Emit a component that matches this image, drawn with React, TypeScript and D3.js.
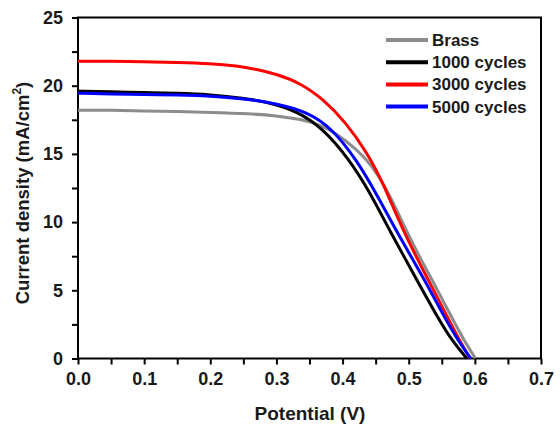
import React, { useEffect, useRef } from 'react';
import * as d3 from 'd3';

// J-V curves: [potential (V), current density (mA/cm2)]
const brass = [
  [0, 18.2], [0.05, 18.2], [0.1, 18.15], [0.15, 18.1], [0.2, 18.05], [0.26, 17.95], [0.3, 17.8],
  [0.336, 17.55], [0.37, 17.1], [0.405, 16.0], [0.433, 14.8], [0.455, 13.4], [0.475, 11.6],
  [0.497, 9.3], [0.517, 7.4], [0.536, 5.7], [0.563, 3.2], [0.585, 1.2], [0.601, 0],
];
const c1000 = [
  [0, 19.6], [0.05, 19.55], [0.1, 19.5], [0.15, 19.45], [0.2, 19.35], [0.25, 19.1], [0.29, 18.75],
  [0.33, 18.15], [0.37, 16.9], [0.41, 14.6], [0.44, 12.3], [0.472, 9.3], [0.513, 5.7],
  [0.545, 2.9], [0.567, 1.2], [0.588, 0],
];
const c3000 = [
  [0, 21.8], [0.05, 21.8], [0.1, 21.75], [0.15, 21.7], [0.2, 21.62], [0.24, 21.45], [0.27, 21.2],
  [0.3, 20.85], [0.336, 20.2], [0.371, 19.0], [0.405, 17.3], [0.437, 15.1], [0.462, 12.8],
  [0.49, 9.5], [0.53, 5.7], [0.558, 3.1], [0.578, 1.2], [0.593, 0],
];
const c5000 = [
  [0, 19.45], [0.05, 19.4], [0.1, 19.35], [0.15, 19.32], [0.2, 19.25], [0.25, 19.05], [0.3, 18.7],
  [0.345, 18.1], [0.384, 16.9], [0.422, 14.5], [0.452, 12.0], [0.484, 9.1], [0.525, 5.7],
  [0.553, 3.1], [0.576, 1.2], [0.594, 0],
];

const names = ['Brass', '1000 cycles', '3000 cycles', '5000 cycles'];
const colors = ['#8c8c8c', '#000000', '#ff0000', '#0000ff'];
const series = [brass, c1000, c3000, c5000];

const xTicks = [0, 0.1, 0.2, 0.3, 0.4, 0.5, 0.6, 0.7];
const yTicks = [0, 5, 10, 15, 20, 25];

const App = () => {
  const ref = useRef<SVGSVGElement>(null);

  useEffect(() => {
    const svg = d3.select(ref.current);
    svg.selectAll('*').remove();

    const x = d3.scaleLinear().domain([0, 0.7]).range([78, 541]);
    const y = d3.scaleLinear().domain([0, 25]).range([358.5, 17.5]);
    const font = 'Arial, "Liberation Sans", sans-serif';
    const ink = '#1a1a1a';

    // frame
    svg.append('rect')
      .attr('x', x(0)).attr('y', y(25))
      .attr('width', x(0.7) - x(0)).attr('height', y(0) - y(25))
      .attr('fill', 'none').attr('stroke', '#000').attr('stroke-width', 2);

    const line = d3.line<number[]>()
      .x(d => x(d[0]))
      .y(d => y(d[1]))
      .curve(d3.curveBasis);

    series.forEach((s, i) => {
      svg.append('path')
        .attr('d', line(s))
        .attr('fill', 'none')
        .attr('stroke', colors[i])
        .attr('stroke-width', 3);
    });

    // x axis
    const xAxis = svg.append('g')
      .attr('transform', `translate(0,${y(0)})`)
      .call(d3.axisBottom(x).tickValues(d3.range(0, 0.701, 0.05)).tickSize(6).tickFormat(() => ''));
    xAxis.select('.domain').remove();
    xAxis.selectAll('line').attr('stroke-width', 2);
    svg.append('g')
      .attr('transform', `translate(0,${y(0)})`)
      .call(d3.axisBottom(x).tickValues(xTicks).tickSize(0).tickPadding(14).tickFormat(d3.format('.1f')))
      .call(g => g.select('.domain').remove())
      .selectAll('text')
      .attr('font-family', font).attr('font-size', 18).attr('font-weight', 'bold').attr('fill', ink);

    // y axis
    const yAxis = svg.append('g')
      .attr('transform', `translate(${x(0)},0)`)
      .call(d3.axisLeft(y).tickValues(d3.range(0, 25.01, 2.5)).tickSize(6).tickFormat(() => ''));
    yAxis.select('.domain').remove();
    yAxis.selectAll('line').attr('stroke-width', 2);
    svg.append('g')
      .attr('transform', `translate(${x(0)},0)`)
      .call(d3.axisLeft(y).tickValues(yTicks).tickSize(0).tickPadding(15).tickFormat(d3.format('d')))
      .call(g => g.select('.domain').remove())
      .selectAll('text')
      .attr('font-family', font).attr('font-size', 18).attr('font-weight', 'bold').attr('fill', ink);

    // axis titles
    svg.append('text')
      .attr('x', 310).attr('y', 420)
      .attr('text-anchor', 'middle')
      .attr('font-family', font).attr('font-size', 19).attr('font-weight', 'bold').attr('fill', ink)
      .text('Potential (V)');

    const yt = svg.append('text')
      .attr('transform', `translate(29,193) rotate(-90)`)
      .attr('text-anchor', 'middle')
      .attr('font-family', font).attr('font-size', 18.5).attr('font-weight', 'bold').attr('fill', ink);
    yt.append('tspan').text('Current density (mA/cm');
    yt.append('tspan').attr('font-size', 12).attr('dy', -8).text('2');
    yt.append('tspan').attr('dy', 8).text(')');

    // legend
    const legend = svg.append('g');
    names.forEach((n, i) => {
      const ly = 40 + i * 22.2;
      legend.append('line')
        .attr('x1', 386).attr('x2', 428).attr('y1', ly).attr('y2', ly)
        .attr('stroke', colors[i]).attr('stroke-width', 4);
      legend.append('text')
        .attr('x', 432).attr('y', ly + 6)
        .attr('font-family', font).attr('font-size', 17).attr('font-weight', 'bold').attr('fill', ink)
        .text(n);
    });
  }, []);

  return <svg ref={ref} width={560} height={424} style={{ position: 'absolute', left: 0, top: 0 }} />;
};

export default App;
